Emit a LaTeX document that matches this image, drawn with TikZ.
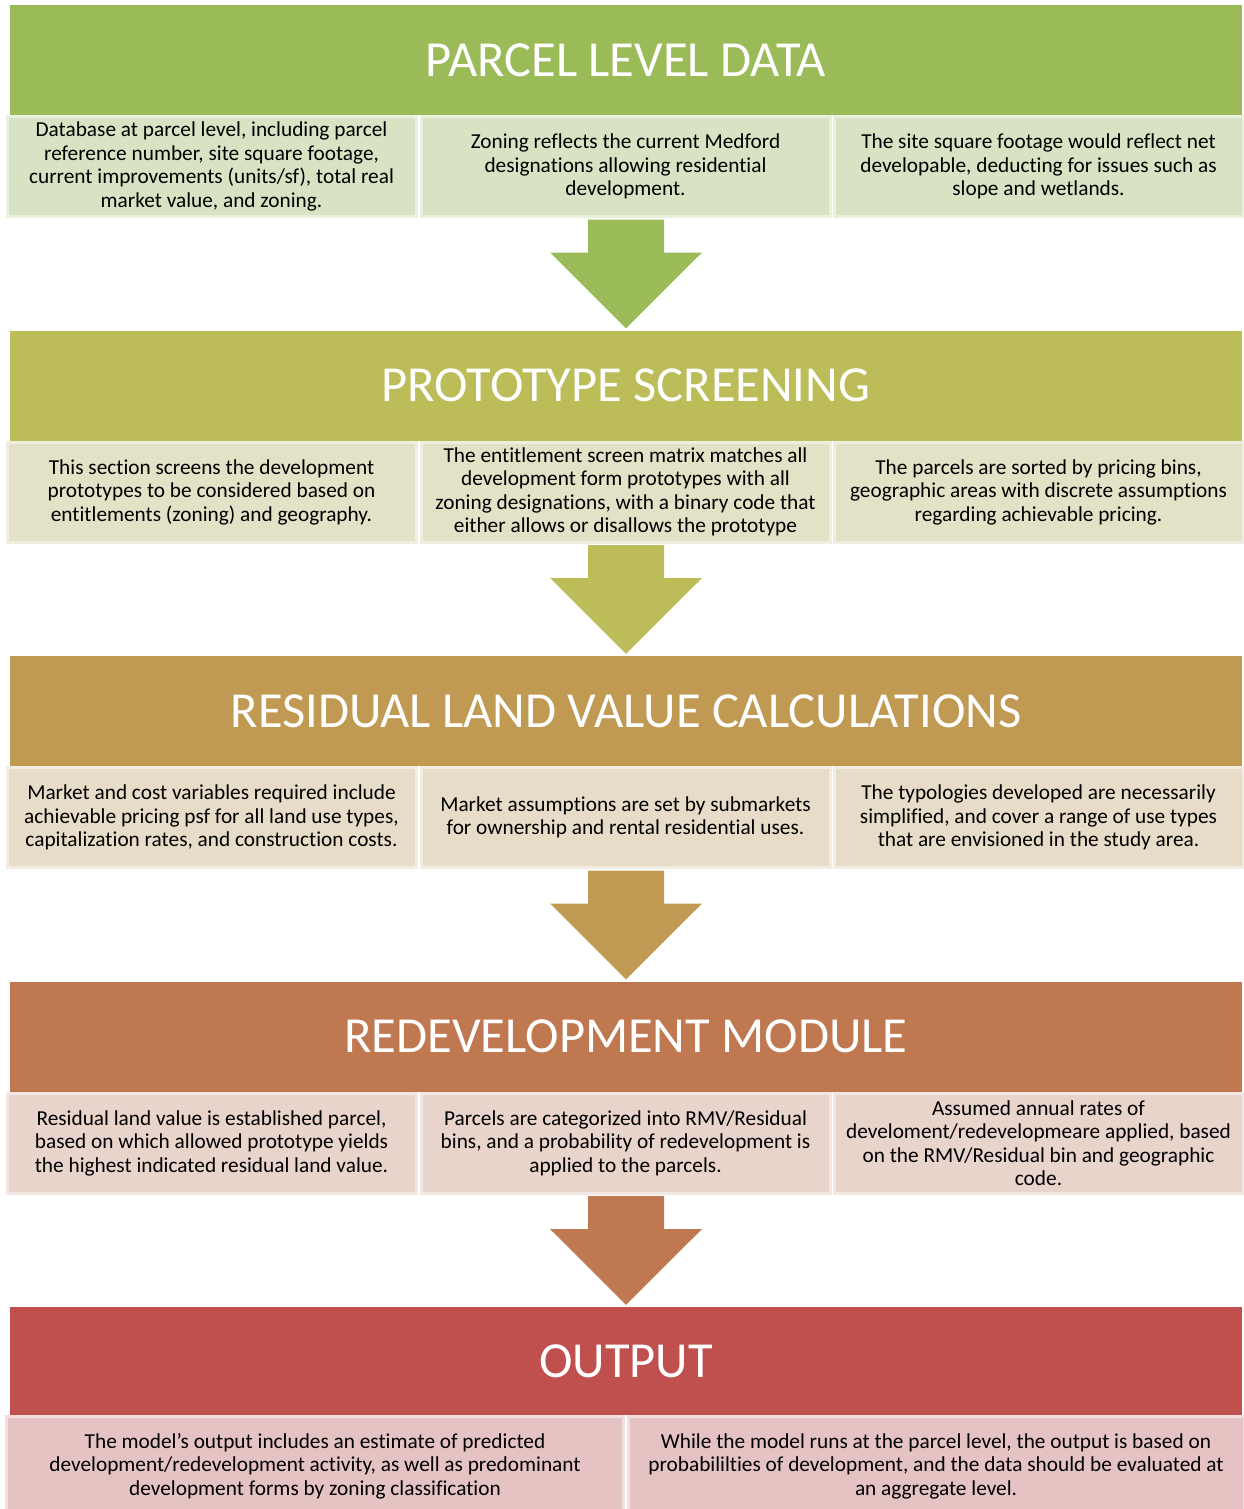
\documentclass[tikz,border=0pt]{standalone}
\usepackage{fontspec}
\setmainfont{Carlito}[Ligatures=NoCommon]
\usetikzlibrary{calc, positioning}

\definecolor{hdA}{HTML}{9BBB59}
\definecolor{hdB}{HTML}{BCBC58}
\definecolor{hdC}{HTML}{C09A53}
\definecolor{hdD}{HTML}{C07851}
\definecolor{hdE}{HTML}{C0504D}
\definecolor{clA}{HTML}{D8E3C3}
\definecolor{clB}{HTML}{E3E1C6}
\definecolor{clC}{HTML}{E7DCC8}
\definecolor{clD}{HTML}{E8D4CA}
\definecolor{clE}{HTML}{E5C3C2}

\tikzset{
  header/.style={rectangle, inner sep=0pt, minimum width=1232, minimum height=110,
    text=white, font=\fontsize{50.5}{54}\selectfont},
  cell/.style={rectangle, inner sep=0pt, line width=3pt, minimum width=409, minimum height=100,
    align=center, font=\fontsize{21.3}{23.5}\selectfont},
  widecell/.style={cell, minimum width=616},
  blockarrow/.style={to path={
    ($(\tikztostart)+(-38,0)$) -- ($(\tikztostart)+(-38,33)$) -- ($(\tikztostart)+(-76,33)$)
    -- (\tikztotarget) -- ($(\tikztostart)+(76,33)$) -- ($(\tikztostart)+(38,33)$)
    -- ($(\tikztostart)+(38,0)$) -- cycle}}
}

\begin{document}
\begin{tikzpicture}[x=1pt,y=-1pt]
\useasboundingbox[fill=white] (0,0) rectangle (1244,1509);

% parcel level data
\node[header, fill=hdA] (pd) at (626,60) {PARCEL LEVEL DATA};
\node[cell, fill=clA, draw=clA!55!white] (pd1) at (211.5,166.5) {Database at parcel level, including parcel\\reference number, site square footage,\\current improvements (units/sf), total real\\market value, and zoning.};
\node[cell, fill=clA, draw=clA!55!white] (pd2) at (625.5,166.5) {Zoning reflects the current Medford\\designations allowing residential\\development.};
\node[cell, fill=clA, draw=clA!55!white] (pd3) at (1038.5,166.5) {The site square footage would reflect net\\developable, deducting for issues such as\\slope and wetlands.};

% prototype screening
\node[header, fill=hdB] (ps) at (626,385.5) {PROTOTYPE SCREENING};
\node[cell, fill=clB, draw=clB!55!white] (ps1) at (211.5,492) {This section screens the development\\prototypes to be considered based on\\entitlements (zoning) and geography.};
\node[cell, fill=clB, draw=clB!55!white] (ps2) at (625.5,492) {The entitlement screen matrix matches all\\development form prototypes with all\\zoning designations, with a binary code that\\either allows or disallows the prototype};
\node[cell, fill=clB, draw=clB!55!white] (ps3) at (1038.5,492) {The parcels are sorted by pricing bins,\\geographic areas with discrete assumptions\\regarding achievable pricing.};

% residual land value calculations
\node[header, fill=hdC] (rl) at (626,711) {RESIDUAL LAND VALUE CALCULATIONS};
\node[cell, fill=clC, draw=clC!55!white] (rl1) at (211.5,817.5) {Market and cost variables required include\\achievable pricing psf for all land use types,\\capitalization rates, and construction costs.};
\node[cell, fill=clC, draw=clC!55!white] (rl2) at (625.5,817.5) {Market assumptions are set by submarkets\\for ownership and rental residential uses.};
\node[cell, fill=clC, draw=clC!55!white] (rl3) at (1038.5,817.5) {The typologies developed are necessarily\\simplified, and cover a range of use types\\that are envisioned in the study area.};

% redevelopment module
\node[header, fill=hdD] (rm) at (626,1036.5) {REDEVELOPMENT MODULE};
\node[cell, fill=clD, draw=clD!55!white] (rm1) at (211.5,1143) {Residual land value is established parcel,\\based on which allowed prototype yields\\the highest indicated residual land value.};
\node[cell, fill=clD, draw=clD!55!white] (rm2) at (625.5,1143) {Parcels are categorized into RMV/Residual\\bins, and a probability of redevelopment is\\applied to the parcels.};
\node[cell, fill=clD, draw=clD!55!white] (rm3) at (1038.5,1143) {Assumed annual rates of\\develoment/redevelopmeare applied, based\\on the RMV/Residual bin and geographic\\code.};

% output
\node[header, fill=hdE, minimum height=108] (op) at (626,1361) {OUTPUT};
\node[widecell, fill=clE, draw=clE!55!white, minimum width=617] (op1) at (315,1466) {The model's output includes an estimate of predicted\\development/redevelopment activity, as well as predominant\\development forms by zoning classification};
\node[widecell, fill=clE, draw=clE!55!white] (op2) at (936,1466) {While the model runs at the parcel level, the output is based on\\probabililties of development, and the data should be evaluated at\\an aggregate level.};

% arrows between the stages
\fill[hdA] ($(pd2.south)+(0.5,1.5)$) to[blockarrow] ($(ps.north)+(0,-2)$);
\fill[hdB] ($(ps2.south)+(0.5,1.5)$) to[blockarrow] ($(rl.north)+(0,-2)$);
\fill[hdC] ($(rl2.south)+(0.5,1.5)$) to[blockarrow] ($(rm.north)+(0,-2)$);
\fill[hdD] ($(rm2.south)+(0.5,1.5)$) to[blockarrow] ($(op.north)+(0,-2)$);
\end{tikzpicture}
\end{document}
